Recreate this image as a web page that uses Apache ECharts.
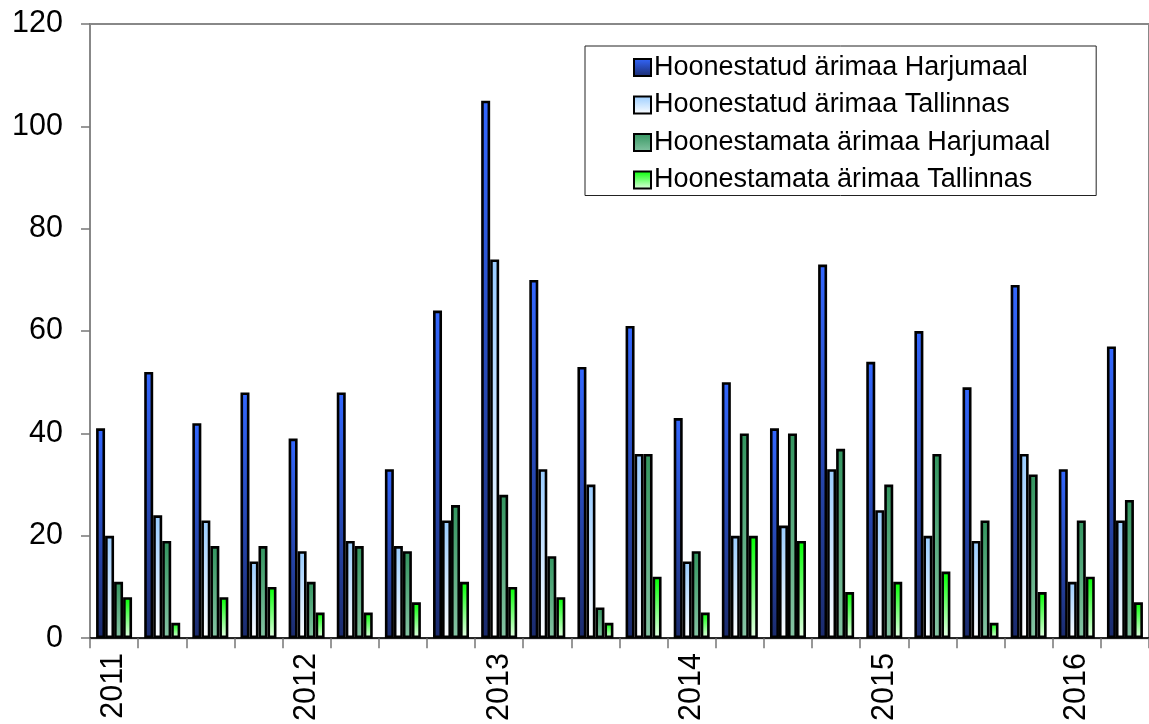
<!DOCTYPE html>
<html>
<head>
<meta charset="utf-8">
<script src="https://cdn.jsdelivr.net/npm/echarts@6/dist/echarts.min.js"></script>
<style>
html,body{margin:0;padding:0;background:#fff;}
#chart{width:1149px;height:724px;}
</style>
</head>
<body>
<div id="chart"></div>
<script>
// Quarters 2011 Q1 .. 2016 Q2
var categories = [
  '2011 I','2011 II','2011 III','2011 IV',
  '2012 I','2012 II','2012 III','2012 IV',
  '2013 I','2013 II','2013 III','2013 IV',
  '2014 I','2014 II','2014 III','2014 IV',
  '2015 I','2015 II','2015 III','2015 IV',
  '2016 I','2016 II'
];
var seriesNames = [
  'Hoonestatud ärimaa Harjumaal',
  'Hoonestatud ärimaa Tallinnas',
  'Hoonestamata ärimaa Harjumaal',
  'Hoonestamata ärimaa Tallinnas'
];
var builtHarju    = [41, 52, 42, 48, 39, 48, 33, 64, 105, 70, 53, 61, 43, 50, 41, 73, 54, 60, 49, 69, 33, 57];
var builtTallinn  = [20, 24, 23, 15, 17, 19, 18, 23, 74, 33, 30, 36, 15, 20, 22, 33, 25, 20, 19, 36, 11, 23];
var unbuiltHarju  = [11, 19, 18, 18, 11, 18, 17, 26, 28, 16, 6, 36, 17, 40, 40, 37, 30, 36, 23, 32, 23, 27];
var unbuiltTallinn= [8, 3, 8, 10, 5, 5, 7, 11, 10, 8, 3, 12, 5, 20, 19, 9, 11, 13, 3, 9, 12, 7];
var yTicks = [0, 20, 40, 60, 80, 100, 120];

var seriesData = [builtHarju, builtTallinn, unbuiltHarju, unbuiltTallinn];
var gradients = [
  ['#3468ff', '#1b2b6c'],
  ['#99ccff', '#ffffff'],
  ['#33955f', '#86c4a4'],
  ['#00ff00', '#e8ffe8']
];

var chart = echarts.init(document.getElementById('chart'), null, {renderer: 'canvas'});
var FONT = '"Liberation Sans", Arial, sans-serif';

var series = seriesNames.map(function (name, i) {
  return {
    name: name,
    type: 'bar',
    data: seriesData[i],
    barWidth: 9,
    barGap: '0%',
    itemStyle: {
      color: new echarts.graphic.LinearGradient(0, 0, 0, 1, [
        {offset: 0, color: gradients[i][0]},
        {offset: 1, color: gradients[i][1]}
      ]),
      borderColor: '#000',
      borderWidth: 2.6
    },
    emphasis: {disabled: true},
    animation: false
  };
});

chart.setOption({
  animation: false,
  backgroundColor: '#fff',
  grid: {
    left: 90, top: 24, width: 1060, height: 614.5,
    show: true, borderColor: '#888', borderWidth: 2, backgroundColor: 'transparent'
  },
  legend: {
    orient: 'vertical',
    left: 585, top: 46,
    data: seriesNames,
    icon: 'rect',
    itemWidth: 17, itemHeight: 17,
    itemGap: 10.5,
    padding: [8, 46, 2, 48],
    borderColor: '#222', borderWidth: 1,
    backgroundColor: '#fff',
    selectedMode: false,
    textStyle: {fontFamily: FONT, fontSize: 27, color: '#000', lineHeight: 27, padding: [0, 0, 0, -2]},
    itemStyle: {borderColor: '#000', borderWidth: 2}
  },
  xAxis: {
    type: 'category',
    data: categories,
    boundaryGap: true,
    axisLine: {show: true, lineStyle: {color: '#000', width: 1.5}},
    axisTick: {show: true, interval: 0, length: 10, lineStyle: {color: '#777', width: 1.5}},
    axisLabel: {
      interval: 0,
      rotate: 90,
      margin: 15,
      padding: [4, 0, 0, 0],
      fontFamily: FONT, fontSize: 30.5, color: '#000',
      formatter: function (v) {
        var parts = v.split(' ');
        return parts[1] === 'I' ? parts[0] : '';
      }
    },
    splitLine: {show: false}
  },
  yAxis: {
    type: 'value',
    min: yTicks[0], max: yTicks[yTicks.length - 1], interval: 20,
    axisLine: {show: true, lineStyle: {color: '#888', width: 1.5}},
    axisTick: {show: true, length: 9, lineStyle: {color: '#777', width: 1.5}},
    axisLabel: {margin: 27, fontFamily: FONT, fontSize: 30.5, color: '#000'},
    splitLine: {show: false}
  },
  series: series
});
</script>
</body>
</html>
